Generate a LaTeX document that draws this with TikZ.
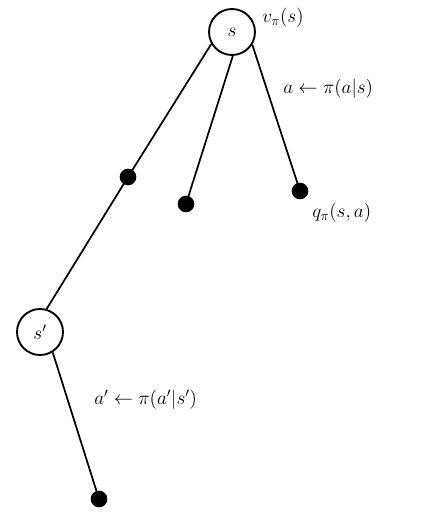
\documentclass[tikz,border=0pt]{standalone}
\begin{document}
\begin{tikzpicture}[x=0.75pt,y=-0.75pt,
  state/.style={circle,draw,line width=1.4pt,minimum size=34.5pt,inner sep=0pt,font=\fontsize{14}{16}\selectfont},
  act/.style={circle,fill=black,minimum size=12.5pt,inner sep=0pt},
  edge/.style={line width=1.3pt},
  lbl/.style={font=\fontsize{14.5}{17}\selectfont,anchor=west,inner sep=0pt}]
\useasboundingbox (0,0) rectangle (443,518);
\node[state] (s) at (232,32) {$s$};
\node[state] (sp) at (40,332) {$s'$};
\node[act] (d1) at (128,177) {};
\node[act] (d2) at (186,204) {};
\node[act] (d3) at (300,191) {};
\node[act] (d4) at (99,499) {};
\draw[edge] (s.210) -- (d1.center);
\draw[edge] (d1.center) -- (sp.74);
\draw[edge] (s.-88) -- (d2.center);
\draw[edge] (s.-32) -- (d3.center);
\draw[edge] (sp.-58) -- (d4.center);
\node[lbl] (v) at (262,18) {$v_\pi(s)$};
\node[lbl] (a) at (283,89) {$a \leftarrow \pi(a|s)$};
\node[lbl] (q) at (312,213) {$q_\pi(s,a)$};
\node[lbl] (ap) at (94,400) {$a' \leftarrow \pi(a'|s')$};
\end{tikzpicture}
\end{document}
